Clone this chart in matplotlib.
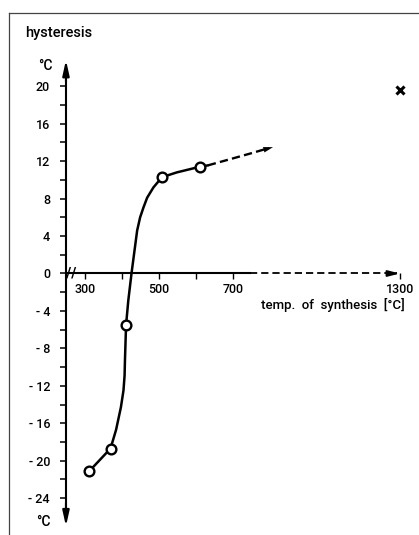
import matplotlib
matplotlib.use('Agg')
import matplotlib.pyplot as plt
import numpy as np
from matplotlib.lines import Line2D

plt.rcParams['font.family'] = ['Roboto', 'DejaVu Sans']
plt.rcParams['font.weight'] = 'medium'

# ---- data ----
point_temp = [312, 369, 411, 509, 610]
point_hyst = [-21.1, -18.7, -5.5, 10.3, 11.4]

curve_temp = [312, 369, 384, 397, 404, 407, 408, 411, 417, 426, 435, 441,
              449, 458, 468, 485, 503, 509, 548, 610, 632]
curve_hyst = [-21.1, -18.7, -16.7, -14.3, -12.5, -10.9, -9.3, -5.5, -2.9, 0.1,
              2.8, 4.6, 6.0, 7.05, 8.1, 9.2, 10.05, 10.3, 10.8, 11.4, 11.55]

trend_temp = [632, 700, 760, 844]
trend_hyst = [11.55, 12.3, 12.8, 13.5]

cross_temp = [1300]
cross_hyst = [19.6]

x_ticks = [300, 400, 500, 600, 700, 1300]
x_labels = ['300', '', '500', '', '700', '1300']
y_major = [20, 16, 12, 8, 4, 0, -4, -8, -12, -16, -20, -24]
y_labels = ['20', '16', '12', '8', '4', '0', '- 4', '- 8', '- 12', '- 16', '- 20', '- 24']
y_minor = [18, 14, 10, 6, 2, -2, -6, -10, -14, -18, -22]

# ---- broken temperature scale (compressed above 700) ----
K = 0.7515


def fwd(t):
    t = np.asarray(t, dtype=float)
    return np.where(t <= 700, t, 700 + (t - 700) * K)


def inv(p):
    p = np.asarray(p, dtype=float)
    return np.where(p <= 700, p, 700 + (p - 700) / K)


W, H = 419, 535
fig = plt.figure(figsize=(W / 100, H / 100), dpi=100)
ax = fig.add_axes([0, 0, 1, 1])
ax.set_xscale('function', functions=(fwd, inv))
ax.set_xlim(70.3, float(inv(1202.7)))
ax.set_ylim((273.5 - 535) / 9.36, 273.5 / 9.36)
ax.patch.set_visible(False)

yaxis_x = 248.6
lw_axis = 1.5

# spines
for s in ['top', 'right']:
    ax.spines[s].set_visible(False)
ax.spines['left'].set_position(('data', yaxis_x))
ax.spines['left'].set_bounds(-26.0, 22.0)
ax.spines['left'].set_linewidth(lw_axis)
ax.spines['bottom'].set_position(('data', 0))
ax.spines['bottom'].set_bounds(yaxis_x, 760)
ax.spines['bottom'].set_linewidth(lw_axis)

# y axis arrows
ax.annotate('', xy=(yaxis_x, 22.8), xytext=(yaxis_x, 20.5),
            arrowprops=dict(arrowstyle='-|>,head_length=0.9,head_width=0.2',
                            color='black', lw=lw_axis, shrinkA=0, shrinkB=0))
ax.annotate('', xy=(yaxis_x, -27.0), xytext=(yaxis_x, -24.5),
            arrowprops=dict(arrowstyle='-|>,head_length=0.9,head_width=0.2',
                            color='black', lw=lw_axis, shrinkA=0, shrinkB=0))

# x axis dashed continuation with arrow
ax.plot([760, 1290], [0, 0], color='black', lw=1.3, ls=(0, (4, 2.2)))
ax.annotate('', xy=(1300, 0), xytext=(1255, 0),
            arrowprops=dict(arrowstyle='-|>,head_length=0.7,head_width=0.18',
                            color='black', lw=1.3, shrinkA=0, shrinkB=0))

# ticks
ax.set_yticks(y_major)
ax.set_yticklabels(y_labels)
ax.set_yticks(y_minor, minor=True)
ax.tick_params(axis='y', which='both', direction='out', length=4.5, width=1.1,
               pad=7, labelsize=9)
ax.set_xticks(x_ticks)
ax.set_xticklabels(x_labels)
ax.xaxis.set_minor_locator(matplotlib.ticker.NullLocator())
ax.tick_params(axis='x', which='both', direction='out', length=4, width=1.0,
               pad=3, labelsize=9)

# axis break mark
ax.text(262, 0.15, '//', fontsize=10, ha='center', va='center',
        fontfamily='DejaVu Sans', fontweight='bold')

# data curve
ax.plot(curve_temp, curve_hyst, color='black', lw=1.8, solid_capstyle='round', zorder=3)
ax.plot(trend_temp[:-1] + [trend_temp[-1] - 15], trend_hyst[:-1] + [trend_hyst[-1] - 0.1],
        color='black', lw=1.7, ls=(0, (3.5, 1.8)), zorder=3)
ax.annotate('', xy=(trend_temp[-1], trend_hyst[-1]),
            xytext=(trend_temp[-2], trend_hyst[-2]),
            arrowprops=dict(arrowstyle='-|>,head_length=0.7,head_width=0.2',
                            color='black', lw=0, shrinkA=0, shrinkB=0), zorder=3)
ax.plot(point_temp, point_hyst, ls='none', marker='o', ms=7, mfc='white',
        mec='black', mew=1.7, zorder=4)
ax.plot(cross_temp, cross_hyst, ls='none', marker='x', ms=5.5, mew=2.2,
        color='black', zorder=4)

# labels (figure pixel positions)
fig.text(25 / W, 1 - 33 / H, 'hysteresis', fontsize=10.5, ha='left', va='center')
fig.text(53 / W, 1 - 66 / H, '°C', fontsize=10, ha='right', va='center')
fig.text(51 / W, 1 - 522 / H, '°C', fontsize=10, ha='right', va='center')
fig.text(405 / W, 1 - 305 / H, 'temp.  of  synthesis  [°C]', fontsize=9.5,
         ha='right', va='center')

# page frame
fig.add_artist(Line2D([8.5 / W, 8.5 / W], [1 - 13 / H, 0], color='#444444', lw=0.9))
fig.add_artist(Line2D([8.5 / W, 1], [1 - 13 / H, 1 - 13 / H], color='#444444', lw=0.9))

fig.savefig('out.png', dpi=100, facecolor='white')
